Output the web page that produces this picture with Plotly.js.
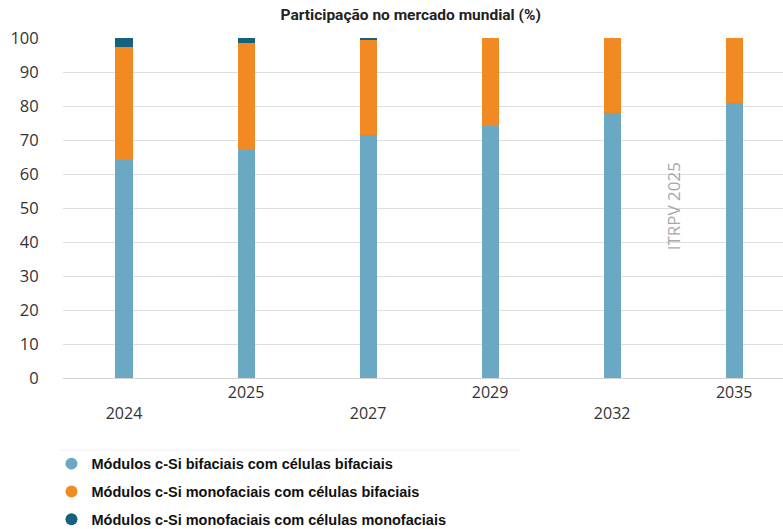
<!DOCTYPE html>
<html>
<head>
<meta charset="utf-8">
<script src="https://cdn.plot.ly/plotly-3.0.1.min.js"></script>
<style>html,body{margin:0;padding:0;background:#fff;}#chart{width:783px;height:529px;}</style>
</head>
<body>
<div id="chart"></div>
<script>
const years = ['2024', '2025', '2027', '2029', '2032', '2035'];
const tickLabels = [' <br>2024', '2025', ' <br>2027', '2029', ' <br>2032', '2035'];
const bifacialModules = [64, 67, 71.5, 74, 78, 81];
const monofacialBifacialCells = [33.5, 31.5, 28, 26, 22, 19];
const monofacialMonofacialCells = [2.5, 1.5, 0.5, 0, 0, 0];
const seriesNames = [
  'Módulos c-Si bifaciais com células bifaciais',
  'Módulos c-Si monofaciais com células bifaciais',
  'Módulos c-Si monofaciais com células monofaciais'
];
const colors = ['#6aa8c3', '#f28a24', '#15627f'];
const seriesValues = [bifacialModules, monofacialBifacialCells, monofacialMonofacialCells];

const traces = [];
seriesValues.forEach((vals, i) => {
  traces.push({
    type: 'bar', x: years, y: vals, name: seriesNames[i],
    marker: {color: colors[i], line: {width: 0}},
    width: 0.14, showlegend: false, hoverinfo: 'x+y+name'
  });
});
seriesValues.forEach((vals, i) => {
  traces.push({
    type: 'scatter', mode: 'markers', x: [null], y: [null], name: seriesNames[i],
    marker: {color: colors[i], size: 14, symbol: 'circle'},
    legendgroup: 'g' + i, showlegend: true
  });
});

const layout = {
  width: 783, height: 529,
  margin: {l: 63, r: 0, t: 38, b: 151, autoexpand: false},
  paper_bgcolor: '#fff', plot_bgcolor: '#fff',
  barmode: 'stack',
  title: {
    text: '<b>Participação no mercado mundial (%)</b>',
    font: {family: 'Roboto', size: 15.5, color: '#222'},
    x: 0.483, xanchor: 'center', xref: 'paper', y: 0.972, yanchor: 'middle', yref: 'container'
  },
  xaxis: {
    type: 'category', categoryarray: years, range: [-0.5, 5.4],
    tickvals: years, ticktext: tickLabels,
    tickfont: {family: 'Open Sans', size: 16, color: '#333'},
    showgrid: false, zeroline: false, showline: true, linecolor: '#d4d4d4', linewidth: 1,
    ticks: '', fixedrange: true
  },
  xaxis2: {
    type: 'category', categoryarray: years, range: [-0.5, 5.4], overlaying: 'x', side: 'top',
    tickvals: years, showticklabels: false, ticks: 'outside', ticklen: 5, tickcolor: '#cfcfcf',
    showgrid: false, zeroline: false, showline: false
  },
  yaxis: {
    range: [0, 100], dtick: 10, tick0: 0,
    tickfont: {family: 'Open Sans', size: 16.5, color: '#333'},
    showgrid: true, gridcolor: '#dedede', gridwidth: 1, zeroline: false,
    ticks: 'outside', ticklen: 20, tickcolor: 'rgba(0,0,0,0)', showline: false
  },
  legend: {
    orientation: 'v', x: -0.016, xanchor: 'left', y: -0.205, yanchor: 'top',
    font: {family: 'Liberation Sans', size: 14.5, color: '#111', weight: 'bold'},
    tracegroupgap: 6, itemsizing: 'constant', itemwidth: 30, bgcolor: 'rgba(0,0,0,0)'
  },
  shapes: [{
    type: 'line', xref: 'paper', yref: 'paper', x0: -0.005, x1: 0.635, y0: -0.212, y1: -0.212,
    line: {color: '#f2f2f2', width: 1}
  }],
  annotations: [{
    text: 'ITRPV 2025', xref: 'paper', yref: 'paper', x: 0.866, y: 0.505,
    textangle: -90, showarrow: false,
    font: {family: 'Open Sans', size: 17, color: '#a8a8a8'}
  }],
  showlegend: true
};

Plotly.newPlot('chart', traces, layout, {displayModeBar: false, staticPlot: true});
</script>
</body>
</html>
